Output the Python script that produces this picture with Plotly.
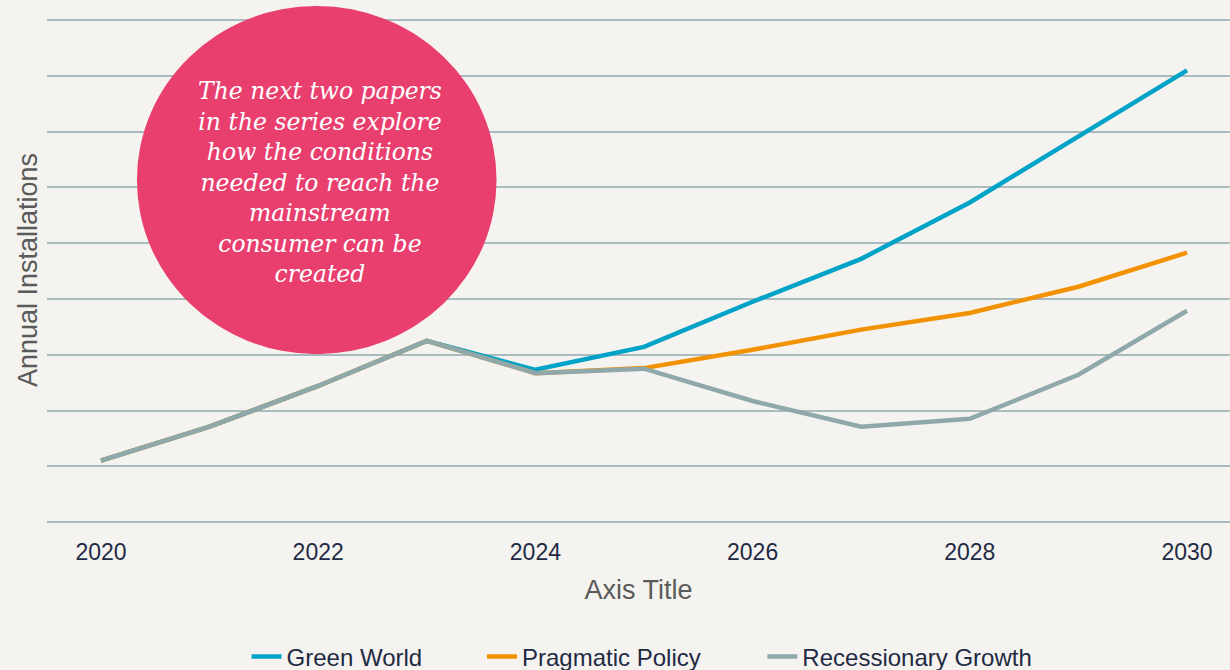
import plotly.graph_objects as go

# años y escenarios (unidades = líneas de rejilla)
anios = [2020, 2021, 2022, 2023, 2024, 2025, 2026, 2027, 2028, 2029, 2030]
green_world = [1.10, 1.71, 2.44, 3.25, 2.73, 3.14, 3.95, 4.72, 5.73, 6.91, 8.10]
pragmatic_policy = [1.10, 1.71, 2.44, 3.25, 2.67, 2.76, 3.09, 3.45, 3.75, 4.22, 4.83]
recessionary_growth = [1.10, 1.71, 2.44, 3.25, 2.67, 2.75, 2.17, 1.71, 1.85, 2.64, 3.79]

series = [
    ("Green World", green_world, "#00A3C8", "legend"),
    ("Pragmatic Policy", pragmatic_policy, "#F39200", "legend2"),
    ("Recessionary Growth", recessionary_growth, "#8FA8AB", "legend3"),
]

texto_circulo = ("The next two papers<br>in the series explore<br>how the conditions<br>"
                 "needed to reach the<br>mainstream<br>consumer can be<br>created")

fig = go.Figure()
for nombre, valores, color, leyenda in series:
    fig.add_trace(go.Scatter(
        x=anios, y=valores, mode="lines", name=nombre, legend=leyenda,
        line=dict(color=color, width=4.5),
    ))

fondo = "#F5F3EF"
gris_titulo = "#5A5A5A"
estilo_leyenda = dict(orientation="h", xanchor="left", yref="container", y=0.0194,
                      yanchor="middle", font=dict(size=24, color="#1F2A44"),
                      bgcolor="rgba(0,0,0,0)")
fig.update_layout(
    width=1230, height=670,
    paper_bgcolor=fondo, plot_bgcolor=fondo,
    margin=dict(l=47, r=0, t=18, b=148),
    font=dict(family="Liberation Sans, Arial", color="#1F2A44"),
    showlegend=True,
    legend=dict(x=0.1687, **estilo_leyenda),
    legend2=dict(x=0.3677, **estilo_leyenda),
    legend3=dict(x=0.6047, **estilo_leyenda),
    xaxis=dict(range=[2019.503, 2030.396], tickvals=[2020, 2022, 2024, 2026, 2028, 2030],
               showgrid=False, zeroline=False, showline=False, automargin=False,
               tickfont=dict(size=23, color="#1F2A44"), ticks="", ticklabelstandoff=14,
               title=dict(text="Axis Title", font=dict(size=27, color=gris_titulo), standoff=16)),
    yaxis=dict(range=[0, 9.04], dtick=1, showticklabels=False, gridcolor="#A9BBBE",
               gridwidth=2, zeroline=True, zerolinecolor="#A9BBBE", zerolinewidth=2,
               automargin=False,
               title=dict(text="Annual Installations", font=dict(size=27, color=gris_titulo), standoff=0)),
)

# círculo rosa con el texto
fig.add_shape(type="circle", xref="paper", yref="paper",
              x0=0.076, x1=0.380, y0=0.333, y1=1.024,
              fillcolor="#E83F6F", line=dict(width=0), layer="above")
fig.add_annotation(xref="paper", yref="paper", x=0.231, y=0.673,
                   xanchor="center", yanchor="middle",
                   text=texto_circulo, showarrow=False, align="center",
                   font=dict(family="DejaVu Serif", size=23.5, color="white", style="italic"))

fig.write_html("out.html", config={"displayModeBar": False},
               post_script="document.body.style.margin='0';"
                           "document.body.style.background='#F5F3EF';")
